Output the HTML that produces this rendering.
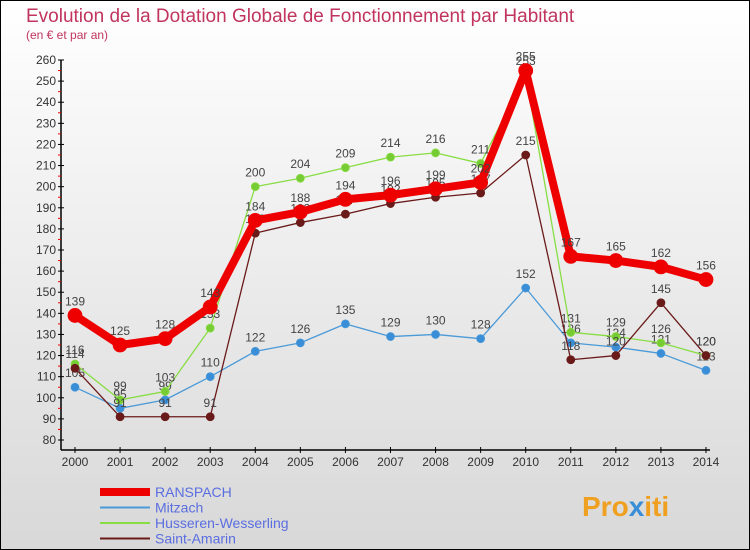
<!DOCTYPE html>
<html><head><meta charset="utf-8"><style>
body{margin:0}
#c{width:750px;height:550px;position:relative;overflow:hidden;font-family:"Liberation Sans",sans-serif}
svg text{font-family:"Liberation Sans",sans-serif}
</style></head><body>
<div id="c">
<svg id="s" width="750" height="550" xmlns="http://www.w3.org/2000/svg">
<defs><linearGradient id="bg" x1="0" y1="0" x2="0" y2="1"><stop offset="0" stop-color="#ffffff"/><stop offset="1" stop-color="#d8d8d8"/></linearGradient></defs>
<rect x="0.5" y="0.5" width="749" height="549" fill="url(#bg)" stroke="#000"/>
<text x="26" y="22" font-size="19" fill="#c0345e">Evolution de la Dotation Globale de Fonctionnement par Habitant</text>
<text x="26" y="39" font-size="12" fill="#c0345e">(en € et par an)</text>
<g id="axes"></g><g id="series"></g><g id="legend"></g>
<text x="582" y="516" font-size="28" font-weight="bold" fill="#f0a020">Pro<tspan fill="#3a8ed8">x</tspan>iti</text>
</svg></div>
<script>
const years=[2000,2001,2002,2003,2004,2005,2006,2007,2008,2009,2010,2011,2012,2013,2014];
const ranspach=[139,125,128,143,184,188,194,196,199,202,255,167,165,162,156];
const mitzach=[105,95,99,110,122,126,135,129,130,128,152,126,124,121,113];
const husseren=[116,99,103,133,200,204,209,214,216,211,253,131,129,126,120];
const saintAmarin=[114,91,91,91,178,183,187,192,195,197,215,118,120,145,120];
const yTicks=[80,90,100,110,120,130,140,150,160,170,180,190,200,210,220,230,240,250,260];
const NS="http://www.w3.org/2000/svg";
const X=i=>75+i*45.07, Y=v=>440-(v-80)*380/180;
function mk(t,a,p){const e=document.createElementNS(NS,t);for(const k in a)e.setAttribute(k,a[k]);p.appendChild(e);return e;}
const ax=document.getElementById('axes');
const yl=mk('line',{x1:61,y1:60,x2:61,y2:450,stroke:'#000','stroke-width':1.5},ax);


const xl=mk('line',{x1:61,y1:450,x2:710,y2:450,stroke:'#000','stroke-width':1.5},ax);


yTicks.forEach(v=>{
 mk('line',{x1:58,y1:Y(v),x2:64,y2:Y(v),stroke:'#000'},ax);
 if(v<260)mk('line',{x1:58,y1:Y(v+5),x2:61,y2:Y(v+5),stroke:'#e00'},ax);
 const t=mk('text',{x:56,y:Y(v)+4,'font-size':12,fill:'#333','text-anchor':'end'},ax);t.textContent=v;
 
 
});
years.forEach((y,i)=>{
 mk('line',{x1:X(i),y1:447,x2:X(i),y2:453,stroke:'#000'},ax);
 const t=mk('text',{x:X(i),y:466,'font-size':12,fill:'#333','text-anchor':'middle'},ax);t.textContent=y;
 
 
});
const sg=document.getElementById('series');
function draw(data,color,w,r,name,dot){
 const g=mk('g',{},sg);
 
 
 mk('polyline',{points:data.map((v,i)=>X(i)+','+Y(v)).join(' '),fill:'none',stroke:color,'stroke-width':w,'stroke-linejoin':'round'},g);
 data.forEach((v,i)=>{
  const c=mk('circle',{cx:X(i),cy:Y(v),r:r,fill:dot,stroke:color,'stroke-width':0.8},g);
  
  
  const t=mk('text',{x:X(i),y:Y(v)-10,'font-size':12,fill:'#444','text-anchor':'middle'},g);t.textContent=v;
 });
}
draw(mitzach,'#4a9ad8',1.3,4,'mitzach','#3a8ed8');
draw(husseren,'#88dd44',1.3,4,'husseren-wesserling','#77cc33');
draw(saintAmarin,'#6b1a1a',1.3,4,'saint-amarin','#6b1a1a');
draw(ranspach,'#ee0000',8,7,'ranspach','#ee0000');
const lg=document.getElementById('legend');
[['RANSPACH','#ee0000',8],['Mitzach','#4a9ad8',2],['Husseren-Wesserling','#88dd44',2],['Saint-Amarin','#6b1a1a',2]].forEach((d,i)=>{
 const y=492+i*15.5;
 const g=mk('g',{},lg);
 
 
 mk('line',{x1:100,y1:y,x2:150,y2:y,stroke:d[1],'stroke-width':d[2]},g);
 const t=mk('text',{x:155,y:y+5,'font-size':14,fill:'#5a6ee0'},g);t.textContent=d[0];
});
</script>
</body></html>
